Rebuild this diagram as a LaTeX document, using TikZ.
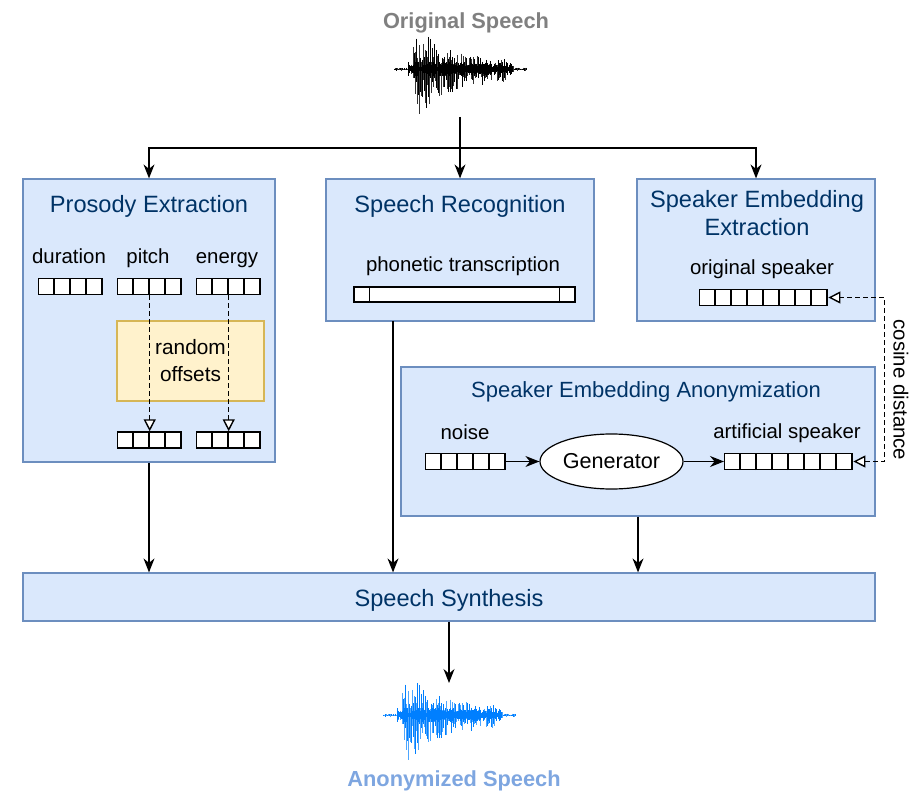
\documentclass[tikz,border=0pt]{standalone}
\usepackage{fontspec}
\setmainfont{Liberation Sans}
\usetikzlibrary{arrows.meta,positioning,shapes.geometric}

\definecolor{boxfill}{HTML}{DAE8FC}
\definecolor{boxline}{HTML}{6C8EBF}
\definecolor{titleblue}{HTML}{003366}
\definecolor{offfill}{HTML}{FFF2CC}
\definecolor{offline}{HTML}{D6B656}
\definecolor{origgrey}{HTML}{808080}
\definecolor{anonblue}{HTML}{7EA6E0}
\definecolor{waveblue}{HTML}{007FFF}
\definecolor{wavelight}{HTML}{4DA6FF}

% row of cells: name, left x, centre y, number of cells
\newcommand{\veccells}[4]{
  \node[vecrow,minimum width=#4*8pt] (#1) at (#2,#3) {};
  \foreach \k in {1,...,#4}{\draw[line width=0.7pt] ([xshift=\k*8pt]#1.south west) -- ([xshift=\k*8pt]#1.north west);}
}

% waveform: left x, centre y, colour, second colour
\newcommand{\speechwave}[4]{
  \pgfmathsetseed{4242}
  \draw[#3,line width=0.4pt] (#1,#2) -- (#1+133,#2);
  \foreach \t in {0,...,132}{
    \pgfmathsetmacro{\env}{(\t<14)*1.5+(\t>=14)*(\t<19)*5+(\t>=19)*(\t<38)*34+(\t>=38)*(\t<52)*25+(\t>=52)*(\t<70)*19+(\t>=70)*(\t<90)*13+(\t>=90)*(\t<113)*10+(\t>=113)*(\t<120)*4+(\t>=120)*1.5}
    \pgfmathsetmacro{\up}{\env*(0.2+0.8*rnd^1.5)}
    \pgfmathsetmacro{\dn}{1.35*\env*(0.2+0.8*rnd^1.5)}
    \ifodd\t \def\wc{#4}\else \def\wc{#3}\fi
    \draw[\wc,line width=0.5pt] (#1+\t,#2-\up) -- (#1+\t,#2+\dn);
  }
  \foreach \t in {14,...,118}{
    \pgfmathsetmacro{\core}{2+5*rnd}
    \draw[#3,line width=0.5pt] (#1+\t,#2-\core) -- (#1+\t,#2+\core);
  }
}

\begin{document}
\begin{tikzpicture}[x=0.5pt,y=-0.5pt,
    block/.style={draw=boxline,fill=boxfill,line width=0.6pt,inner sep=0},
    ttl/.style={text=titleblue,font=\fontsize{11.8}{14}\selectfont,align=center,text height=8.5pt,text depth=2.5pt},
    ttltwo/.style={text=titleblue,font=\fontsize{11.8}{14}\selectfont,align=center},
    lbl/.style={font=\fontsize{10.2}{12.2}\selectfont,text height=7.4pt,text depth=2.1pt,inner sep=0},
    vecrow/.style={draw,fill=white,line width=0.7pt,minimum height=8pt,inner sep=0,anchor=west},
    arr/.style={-{Stealth[length=7pt,width=5.5pt]},line width=0.6pt},
    dsh/.style={-{Triangle[length=6pt,width=6pt,fill=white]},dash pattern=on 2.5pt off 1.5pt,line width=0.7pt},
    bigtxt/.style={font=\fontsize{10.9}{13}\selectfont\bfseries}]
\useasboundingbox (0,0) rectangle (919,801);

% input
\node[bigtxt,text=origgrey] (ost) at (466,23) {Original Speech};
\speechwave{394}{69}{black}{black!80}
\coordinate (ow) at (460,117);
\coordinate (split) at (460,148);

% blocks
\node[block,minimum width=126pt,minimum height=141.5pt] (pe) at (149,320.5) {};
\node[block,minimum width=134pt,minimum height=71pt] (sr) at (460,250) {};
\node[block,minimum width=119pt,minimum height=71pt] (see) at (756,250) {};
\node[block,minimum width=237pt,minimum height=74.5pt] (sea) at (638,441.5) {};
\node[block,minimum width=426pt,minimum height=24pt] (ss) at (449,597) {};
\node[ttl] (sst) at (449,600) {Speech Synthesis};

% prosody
\node[ttl] (pet) at (149,207) {Prosody Extraction};
\node[lbl] (dur) at (69,258) {duration};
\node[lbl] (pch) at (148,258) {pitch};
\node[lbl] (eng) at (227,258) {energy};
\veccells{durv}{38}{286.5}{4}
\veccells{pitv}{117}{286.5}{4}
\veccells{engv}{196}{286.5}{4}
\node[draw=offline,fill=offfill,line width=0.6pt,minimum width=73.5pt,minimum height=40pt,align=center,
  font=\fontsize{10.4}{13.5}\selectfont] (rnd) at (190.5,361) {random\\offsets};
\veccells{pitw}{117}{440}{4}
\veccells{engw}{196}{440}{4}
\draw[dsh] (pitv.south) -- (pitw.north);
\draw[dsh] (engv.south) -- (engw.north);

% recognition
\node[ttl] (srt) at (460,207) {Speech Recognition};
\node[lbl] (pht) at (463,266) {phonetic transcription};
\node[draw,fill=white,line width=0.7pt,minimum width=110.5pt,minimum height=7.5pt,inner sep=0] (phv) at (464.5,294.5) {};
\draw[line width=0.7pt] ([xshift=8pt]phv.south west) -- ([xshift=8pt]phv.north west);
\draw[line width=0.7pt] ([xshift=-8pt]phv.south east) -- ([xshift=-8pt]phv.north east);

% speaker embedding
\node[ttltwo] (seet) at (757,213) {Speaker Embedding\\Extraction};
\node[lbl] (osp) at (762,269) {original speaker};
\veccells{ospv}{699}{297.5}{8}

% anonymization
\node[ttl,font=\fontsize{11}{13}\selectfont] (seat) at (646,392) {Speaker Embedding Anonymization};
\node[lbl] (nse) at (465,434) {noise};
\node[lbl] (asp) at (787,433) {artificial speaker};
\veccells{nsev}{425}{461.5}{5}
\veccells{aspv}{724}{461.5}{8}
\node[draw,ellipse,fill=white,line width=0.6pt,minimum width=71.5pt,minimum height=27.5pt,inner sep=0,
  font=\fontsize{10.8}{13}\selectfont] (gen) at (611.5,461.5) {Generator};
\draw[arr] (nsev.east) -- (gen.west);
\draw[arr] (gen.east) -- (aspv.west);
\draw[dsh,{Triangle[length=6pt,width=6pt,fill=white]}-{Triangle[length=6pt,width=6pt,fill=white]}]
  (aspv.east) -- ++(31,0) |- (ospv.east);
\node[lbl,rotate=-90] (cos) at (899,390) {cosine distance};

% connectors
\draw[arr] (ow) -- (sr.north);
\draw[arr] (split) -| (pe.north);
\draw[arr] (split) -| (see.north);
\draw[arr] (pe.south) -- (pe.south |- ss.north);
\coordinate (srout) at (393,321);
\draw[arr] (srout) -- (srout |- ss.north);
\draw[arr] (sea.south) -- (sea.south |- ss.north);
\coordinate (aw) at (449,683);
\draw[arr] (ss.south) -- (aw);

% output
\speechwave{383}{715}{waveblue}{wavelight}
\node[bigtxt,text=anonblue] (ast) at (454,781) {Anonymized Speech};
\end{tikzpicture}
\end{document}
